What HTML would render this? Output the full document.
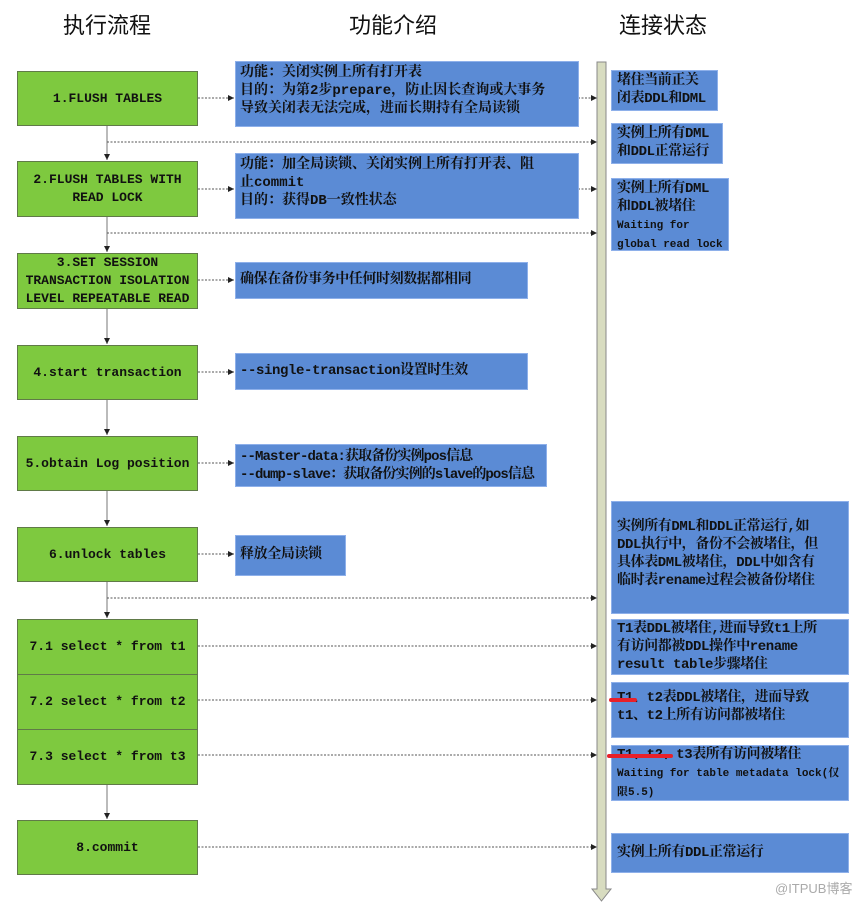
<!DOCTYPE html>
<html><head><meta charset="utf-8"><style>
body{margin:0;width:865px;height:903px;background:#fff;position:relative;overflow:hidden;font-family:"Liberation Mono","Noto Serif CJK SC",monospace;font-weight:bold;color:#111}
.h{position:absolute;top:8px;font-family:"Liberation Sans","Noto Sans CJK SC",sans-serif;font-size:22px;font-weight:normal;width:200px;text-align:center}
.g{position:absolute;left:17px;background:#7ec93f;border:1px solid #607a48;display:flex;align-items:center;justify-content:center;text-align:center;font-size:13px;line-height:18px;box-sizing:border-box;width:181px}
.b{position:absolute;background:#5b8bd5;border:1px solid #8eb0ea;box-sizing:border-box;font-size:14px;letter-spacing:-0.4px;line-height:18px;padding:2px 4px;white-space:nowrap;overflow:hidden}
.s{font-size:11px;letter-spacing:0;line-height:18px}
</style></head><body>
<div class="h" style="left:7px">执行流程</div>
<div class="h" style="left:293px">功能介绍</div>
<div class="h" style="left:563px">连接状态</div>

<svg width="865" height="903" style="position:absolute;left:0;top:0">
<defs><marker id="a" markerWidth="6" markerHeight="6" refX="6" refY="3" orient="auto" markerUnits="userSpaceOnUse"><path d="M0,0L6,3L0,6z" fill="#222"/></marker></defs>
<g stroke="#777" stroke-width="1" fill="none" marker-end="url(#a)">
<line x1="107" y1="125" x2="107" y2="160"/>
<line x1="107" y1="216" x2="107" y2="252"/>
<line x1="107" y1="308" x2="107" y2="344"/>
<line x1="107" y1="399" x2="107" y2="435"/>
<line x1="107" y1="490" x2="107" y2="526"/>
<line x1="107" y1="581" x2="107" y2="618"/>
<line x1="107" y1="784" x2="107" y2="819"/>
</g>
<g stroke="#555" stroke-width="1" stroke-dasharray="2,1.5" fill="none" marker-end="url(#a)">
<line x1="198" y1="98" x2="234" y2="98"/>
<line x1="578" y1="98" x2="597" y2="98"/>
<line x1="107" y1="142" x2="597" y2="142"/>
<line x1="198" y1="189" x2="234" y2="189"/>
<line x1="578" y1="189" x2="597" y2="189"/>
<line x1="107" y1="233" x2="597" y2="233"/>
<line x1="198" y1="280" x2="234" y2="280"/>
<line x1="198" y1="372" x2="234" y2="372"/>
<line x1="198" y1="463" x2="234" y2="463"/>
<line x1="198" y1="554" x2="234" y2="554"/>
<line x1="107" y1="598" x2="597" y2="598"/>
<line x1="198" y1="646" x2="597" y2="646"/>
<line x1="198" y1="700" x2="597" y2="700"/>
<line x1="198" y1="755" x2="597" y2="755"/>
<line x1="198" y1="847" x2="597" y2="847"/>
</g>
<path d="M597,62H606V889H611L601.5,901L592,889H597Z" fill="#d8dcc0" stroke="#888" stroke-width="1"/>
</svg>

<div class="g" style="top:71px;height:55px">1.FLUSH TABLES</div>
<div class="g" style="top:161px;height:56px">2.FLUSH TABLES WITH<br>READ LOCK</div>
<div class="g" style="top:253px;height:56px">3.SET SESSION<br>TRANSACTION ISOLATION<br>LEVEL REPEATABLE READ</div>
<div class="g" style="top:345px;height:55px">4.start transaction</div>
<div class="g" style="top:436px;height:55px">5.obtain Log position</div>
<div class="g" style="top:527px;height:55px">6.unlock tables</div>
<div class="g" style="top:619px;height:56px">7.1 select * from t1</div>
<div class="g" style="top:674px;height:56px">7.2 select * from t2</div>
<div class="g" style="top:729px;height:56px">7.3 select * from t3</div>
<div class="g" style="top:820px;height:55px">8.commit</div>

<div class="b" style="left:235px;top:61px;width:344px;height:66px;letter-spacing:0">功能：关闭实例上所有打开表<br>目的：为第2步prepare，防止因长查询或大事务<br>导致关闭表无法完成，进而长期持有全局读锁</div>
<div class="b" style="left:235px;top:153px;width:344px;height:66px;letter-spacing:0">功能：加全局读锁、关闭实例上所有打开表、阻<br>止commit<br>目的：获得DB一致性状态</div>
<div class="b" style="left:235px;top:262px;width:293px;height:37px;padding-top:8px">确保在备份事务中任何时刻数据都相同</div>
<div class="b" style="left:235px;top:353px;width:293px;height:37px;padding-top:8px">--single-transaction设置时生效</div>
<div class="b" style="left:235px;top:444px;width:312px;height:43px;padding-top:3px;letter-spacing:-0.9px">--Master-data:获取备份实例pos信息<br>--dump-slave：获取备份实例的slave的pos信息</div>
<div class="b" style="left:235px;top:535px;width:111px;height:41px;padding-top:10px">释放全局读锁</div>

<div class="b" style="left:611px;top:70px;width:107px;height:41px;padding:1px 5px">堵住当前正关<br>闭表DDL和DML</div>
<div class="b" style="left:611px;top:123px;width:112px;height:41px;padding:1px 5px">实例上所有DML<br>和DDL正常运行</div>
<div class="b" style="left:611px;top:178px;width:118px;height:73px;padding:1px 5px">实例上所有DML<br>和DDL被堵住<br><span class="s">Waiting for<br>global read lock</span></div>
<div class="b" style="left:611px;top:501px;width:238px;height:113px;padding:16px 5px 0">实例所有DML和DDL正常运行,如<br>DDL执行中，备份不会被堵住，但<br>具体表DML被堵住，DDL中如含有<br>临时表rename过程会被备份堵住</div>
<div class="b" style="left:611px;top:619px;width:238px;height:56px;padding:0 5px">T1表DDL被堵住,进而导致t1上所<br>有访问都被DDL操作中rename<br>result table步骤堵住</div>
<div class="b" style="left:611px;top:682px;width:238px;height:56px;padding:6px 5px 0">T1、t2表DDL被堵住，进而导致<br>t1、t2上所有访问都被堵住</div>
<div class="b" style="left:611px;top:745px;width:238px;height:56px;padding:0 5px">T1、t2、t3表所有访问被堵住<br><span class="s">Waiting for table metadata lock(仅<br>限5.5)</span></div>
<div class="b" style="left:611px;top:833px;width:238px;height:40px;padding:10px 5px 0">实例上所有DDL正常运行</div>

<div style="position:absolute;left:609px;top:698px;width:28px;height:4px;background:#e8202a;border-radius:2px"></div>
<div style="position:absolute;left:607px;top:754px;width:66px;height:4px;background:#e8202a;border-radius:2px"></div>
<div style="position:absolute;left:775px;top:878px;font-family:'Liberation Sans','Noto Sans CJK SC',sans-serif;font-weight:normal;font-size:13px;color:#aaa">@ITPUB博客</div>
</body></html>
